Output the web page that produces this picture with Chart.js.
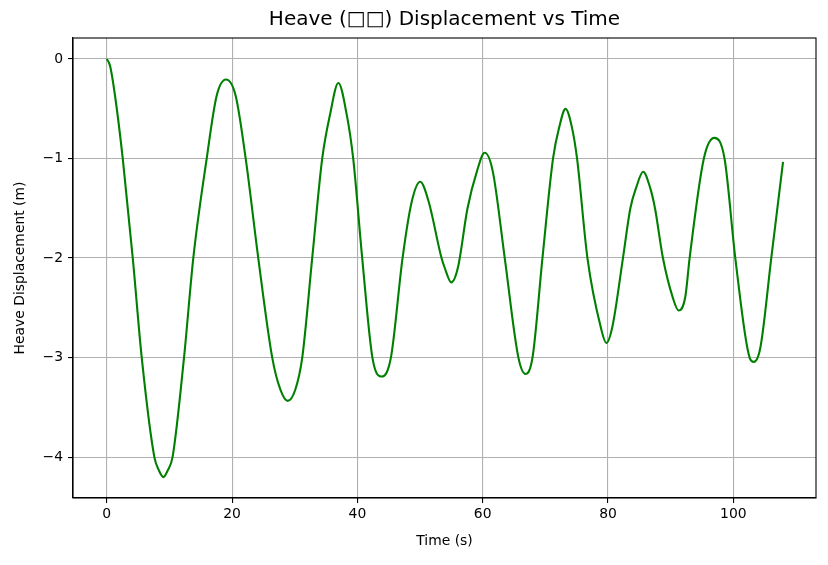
<!DOCTYPE html>
<html>
<head>
<meta charset="utf-8">
<script src="https://cdn.jsdelivr.net/npm/chart.js@4/dist/chart.umd.min.js"></script>
<style>
  html, body { margin: 0; padding: 0; background: #fff; }
  #wrap { width: 828px; height: 565px; }
</style>
</head>
<body>
<div id="wrap"><canvas id="chart" width="828" height="565"></canvas></div>
<script>
// values: extrema, points near them and grid-line crossings
const times = [
  0, 0.53, 1.32, 2.55, 4.15, 5.58, 7.6, 8.3, 9.03, 9.75, 10.5, 12.33, 13.81, 15.95, 17.54,
  19.03, 20.57, 22.17, 24.18, 26.41, 27.7, 28.87, 30.1, 31.2, 32.79, 34.39, 35.63,
  36.96, 38.3, 39.33, 40.77, 42.4, 43.89, 45.35, 47.21, 48.69,
  50.03, 51.36, 53.43, 53.92, 54.99, 56.05, 57.58, 59.09,
  60.32, 61.6, 63.52, 65.7, 66.83, 67.95, 69.54, 71.23, 72.2,
  73.23, 74.25, 75.06, 76.72, 78.84, 79.74, 80.69, 82.39, 83.57, 84.5,
  85.61, 86.72, 87.5, 88.77, 90.32, 91.27, 92.33, 93.03, 95.3,
  96.98, 98.6, 100.32, 102.6, 103.28, 104.34, 106.06, 107.94
];
const heave = [
  0, -0.07, -0.37, -1, -2, -3, -4, -4.13, -4.2, -4.13, -4, -3, -2, -1, -0.37,
  -0.207, -0.37, -1, -2, -3, -3.32, -3.435, -3.32, -3, -2, -1, -0.56,
  -0.242, -0.56, -1, -2, -3, -3.19, -3, -2, -1.43,
  -1.234, -1.43, -2, -2.095, -2.245, -2.095, -1.5, -1.127,
  -0.943, -1.127, -2, -3, -3.164, -3, -2, -1, -0.69,
  -0.502, -0.69, -1, -2, -2.693, -2.853, -2.693, -2, -1.5, -1.293,
  -1.133, -1.293, -1.5, -2, -2.393, -2.527, -2.393, -2, -1,
  -0.793, -1, -2, -3, -3.043, -2.893, -2, -1.033
];
const xTicks = [0, 20, 40, 60, 80, 100];
const yTicks = [-4, -3, -2, -1, 0];

const font = 'DejaVu Sans';

// closes the box on the top and right sides like matplotlib does
const frame = {
  id: 'frame',
  afterDraw(chart) {
    const a = chart.chartArea, c = chart.ctx;
    c.save();
    c.strokeStyle = '#000';
    c.lineWidth = 1.1;
    c.strokeRect(a.left, a.top, a.right - a.left, a.bottom - a.top);
    c.restore();
  }
};

function minus(v) {
  return String(v).replace('-', '\u2212');
}

const ctx = document.getElementById('chart').getContext('2d');
new Chart(ctx, {
  type: 'line',
  data: {
    datasets: [{
      data: times.map((t, i) => ({ x: t, y: heave[i] })),
      borderColor: '#008000',
      borderWidth: 2.1,
      pointRadius: 0,
      cubicInterpolationMode: 'monotone',
      fill: false
    }]
  },
  options: {
    responsive: false,
    animation: false,
    layout: { padding: { left: 0, right: 12, top: 0, bottom: 0 } },
    plugins: {
      legend: { display: false },
      tooltip: { enabled: false },
      title: {
        display: true,
        fullSize: false,
        text: 'Heave (\u25A1\u25A1) Displacement vs Time',
        color: '#000',
        font: { family: font, size: 20, weight: 'normal' },
        padding: { top: 8, bottom: 6 }
      }
    },
    scales: {
      x: {
        type: 'linear',
        min: -5.39,
        max: 113.2,
        afterBuildTicks: s => { s.ticks = xTicks.map(v => ({ value: v })); },
        afterFit: s => { s.height = 67; s.paddingLeft = 0; s.paddingRight = 0; },
        ticks: { color: '#000', font: { family: font, size: 13.9 }, padding: 3, maxRotation: 0 },
        grid: { color: '#b0b0b0', lineWidth: 1.1, tickColor: '#000', tickLength: 5, tickWidth: 1.1 },
        border: { color: '#000', width: 1.1 },
        title: {
          display: true,
          text: 'Time (s)',
          color: '#000',
          font: { family: font, size: 13.9 },
          padding: { top: 4, bottom: 15 }
        }
      },
      y: {
        type: 'linear',
        min: -4.41,
        max: 0.21,
        afterBuildTicks: s => { s.ticks = yTicks.map(v => ({ value: v })); },
        afterFit: s => { s.width = 73; s.paddingTop = 0; s.paddingBottom = 0; },
        ticks: { color: '#000', font: { family: font, size: 13.9 }, padding: 5, callback: v => minus(v) },
        grid: { color: '#b0b0b0', lineWidth: 1.1, tickColor: '#000', tickLength: 5, tickWidth: 1.1 },
        border: { color: '#000', width: 1.1 },
        title: {
          display: true,
          text: 'Heave Displacement (m)',
          color: '#000',
          font: { family: font, size: 13.9 },
          padding: { top: 12, bottom: 4 }
        }
      }
    }
  },
  plugins: [frame]
});
</script>
</body>
</html>
